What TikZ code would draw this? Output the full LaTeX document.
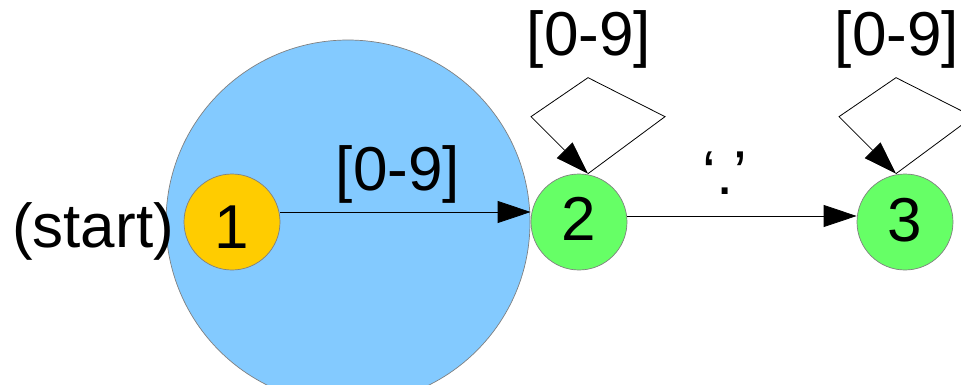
\documentclass[tikz,border=0pt]{standalone}
\usepackage{fontspec}
\setmainfont{Liberation Sans}
\usetikzlibrary{arrows.meta}
\definecolor{bigblue}{HTML}{83CAFF}
\definecolor{stateyellow}{HTML}{FFCC00}
\definecolor{stategreen}{HTML}{66FF66}
\definecolor{rimgray}{HTML}{808080}
\begin{document}
\begin{tikzpicture}[x=1pt,y=-1pt,
  every node/.style={font=\fontsize{62}{70}\selectfont, inner sep=0pt},
  statenode/.style={circle, draw=rimgray, line width=0.7pt, minimum size=96pt},
  lbl/.style={anchor=base},
  arr/.style={line width=0.8pt, -{Triangle[length=33pt,width=22pt]}},
  loopline/.style={line width=0.8pt, line join=miter, -{Triangle[length=33pt,width=22pt]}}]
\useasboundingbox (0,0) rectangle (961,384);
\begin{scope}
\clip (0,0) rectangle (961,384);
\node[circle, fill=bigblue, draw=rimgray, line width=0.7pt, minimum size=364pt] (big) at (348,222) {};
\end{scope}
\node[statenode, fill=stateyellow] (n1) at (232,222) {};
\node[statenode, fill=stategreen] (n2) at (579,222) {};
\node[statenode, fill=stategreen] (n3) at (905,222) {};
\node[lbl] (t1) at (232,248) {1};
\node[lbl] (t2) at (579,240) {2};
\node[lbl] (t3) at (905,241) {3};
\node[lbl] (st) at (93,247) {(start)};
\draw[arr] ([yshift=10pt]n1.east) -- ([yshift=10pt]n2.west);
\node[lbl] (l12) at (398,190) {[0-9]};
\draw[arr] ([yshift=6pt]n2.east) -- ([yshift=6pt]n3.west);
\node[lbl] (l23) at (725,194) {‘.’};
\coordinate (a2) at ([xshift=9pt]n2.north);
\draw[loopline] (a2) -- ++(77,-57) -- ++(-77,-39) -- ++(-57,39) -- (a2);
\node[lbl] (lp2) at (589,55) {[0-9]};
\coordinate (a3) at ([xshift=-9pt]n3.north);
\draw[loopline] (a3) -- ++(77,-57) -- ++(-77,-39) -- ++(-57,39) -- (a3);
\node[lbl] (lp3) at (897,55) {[0-9]};
\end{tikzpicture}
\end{document}
